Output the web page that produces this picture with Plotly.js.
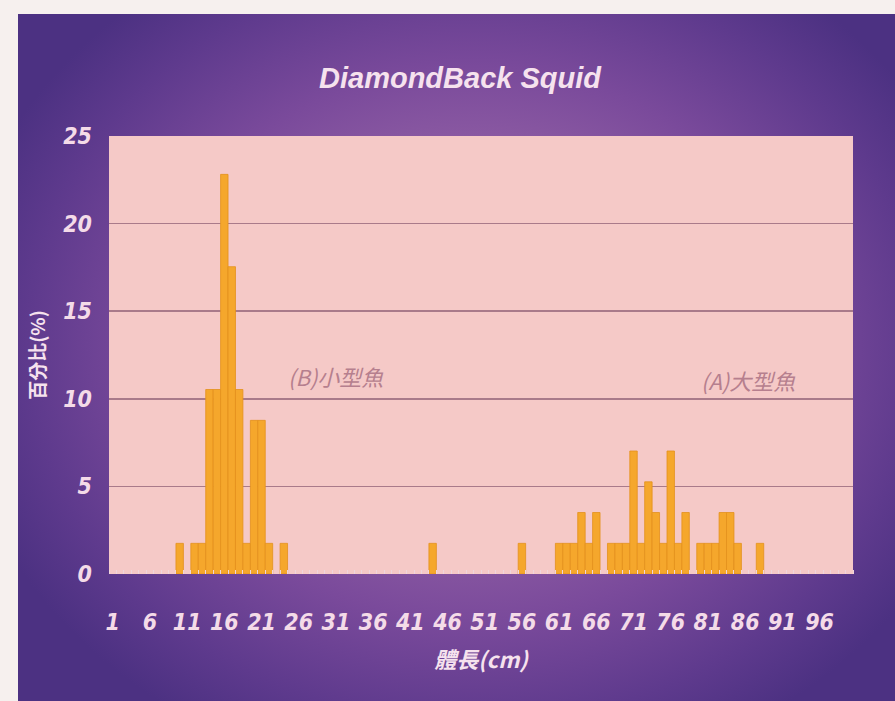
<!DOCTYPE html>
<html>
<head>
<meta charset="utf-8">
<script src="https://cdn.plot.ly/plotly-3.0.1.min.js"></script>
<style>
  html, body { margin:0; padding:0; width:895px; height:701px; background:#f6f0ee; overflow:hidden; }
  #bg { position:absolute; left:18px; top:14px; width:877px; height:687px;
        background: radial-gradient(ellipse 60% 65% at 52% 48%, #a873ad 0%, #9462a6 35%, #7a4a9b 62%, #5e3a8d 85%, #4c3182 100%); }
  #chart { position:absolute; left:0; top:0; width:895px; height:701px; }
</style>
</head>
<body>
<div id="bg"></div>
<div id="chart"></div>
<script>
// Body length classes (cm) that have a bar, and their percentage
const bodyLength = [10,12,13,14,15,16,17,18,19,20,21,22,24,
                    44,56,61,62,63,64,65,66,68,69,70,71,72,73,74,75,76,77,78,80,81,82,83,84,85,88];
const percent    = [1.75,1.75,1.75,10.53,10.53,22.81,17.54,10.53,1.75,8.77,8.77,1.75,1.75,
                    1.75,1.75,1.75,1.75,1.75,3.51,1.75,3.51,1.75,1.75,1.75,7.02,1.75,5.26,3.51,1.75,7.02,1.75,3.51,1.75,1.75,1.75,3.51,3.51,1.75,1.75];
const chartTitle = "DiamondBack Squid";
const xTitle = "體長(cm)";
const yTitle = "百分比(%)";
const groupLabels = ["(B)小型魚", "(A)大型魚"];

const tickFont = {family:"Liberation Sans Narrow, DejaVu Sans Condensed, Liberation Sans, sans-serif", size:23, color:"#f4dbe8", weight:"bold", style:"italic"};

const trace = {
  type:"bar", x: bodyLength, y: percent,
  marker:{color:"#f5a72c", line:{color:"#e3901c", width:0.8}},
  hoverinfo:"x+y"
};

const layout = {
  width:895, height:701,
  paper_bgcolor:"rgba(0,0,0,0)",
  plot_bgcolor:"#f5c9c7",
  margin:{l:109, r:42, t:136, b:127},
  bargap:0,
  showlegend:false,
  title:{text:chartTitle, x:0.514, xanchor:"center", y:0.889, yanchor:"middle",
         font:{family:"Liberation Sans, Arial, sans-serif", size:29, color:"#f6e2ee", weight:"bold", style:"italic"}},
  xaxis:{range:[0.5,100.5], tick0:1, dtick:5, tickmode:"linear",
         showgrid:false, zeroline:false, showline:false,
         ticks:"", ticklabelstandoff:32,
         tickfont:tickFont,
         minor:{tick0:0.5, dtick:1, ticks:"inside", ticklen:4, tickcolor:"#efd6dc", tickwidth:1},
         title:{text:xTitle, standoff:18,
                font:{family:"Noto Sans CJK TC, sans-serif", size:22, color:"#f6e2ee", weight:"bold", style:"italic"}}},
  yaxis:{range:[0,25], tick0:0, dtick:5, tickmode:"linear",
         showgrid:true, gridcolor:"#a97a8a", gridwidth:1.5, zeroline:false, showline:false,
         ticks:"", ticklabelstandoff:16,
         tickfont:tickFont,
         title:{text:yTitle, standoff:12,
                font:{family:"Noto Sans CJK TC, sans-serif", size:19, color:"#f6e2ee", weight:"bold"}}},
  annotations:[
    {text:groupLabels[0], x:30.9, y:11.3, xref:"x", yref:"y", showarrow:false,
     font:{family:"Noto Sans CJK TC, sans-serif", size:22, color:"#b67f8e", style:"italic"}},
    {text:groupLabels[1], x:86.4, y:11.1, xref:"x", yref:"y", showarrow:false,
     font:{family:"Noto Sans CJK TC, sans-serif", size:22, color:"#b67f8e", style:"italic"}}
  ]
};

Plotly.newPlot("chart", [trace], layout, {displayModeBar:false, staticPlot:true});
</script>
</body>
</html>
